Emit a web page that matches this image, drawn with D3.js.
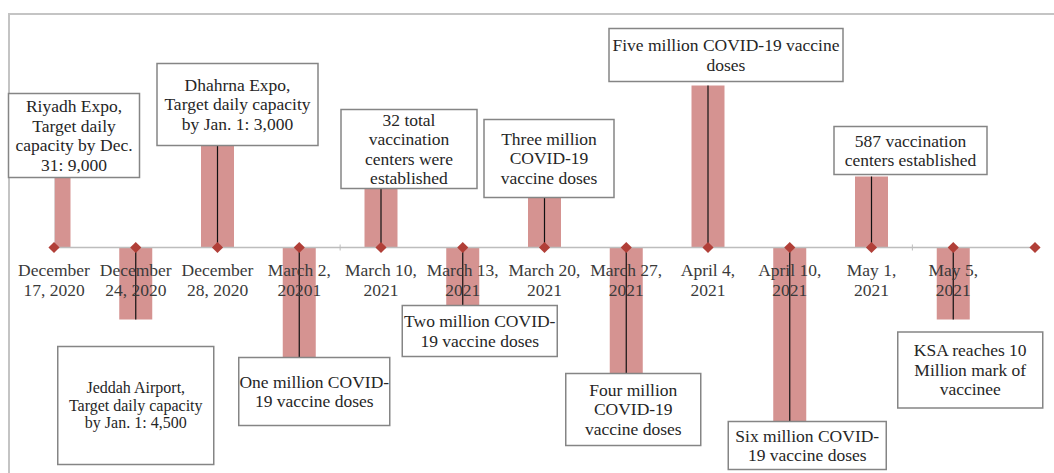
<!DOCTYPE html>
<html>
<head>
<meta charset="utf-8">
<script src="https://cdn.jsdelivr.net/npm/d3@7"></script>
<style>
  html, body { margin: 0; padding: 0; background: #fff; }
  svg { display: block; }
</style>
</head>
<body>
<script>
// Timeline data
var dates = [
  ["December", "17, 2020"], ["December", "24, 2020"], ["December", "28, 2020"],
  ["March 2,", "20201"], ["March 10,", "2021"], ["March 13,", "2021"],
  ["March 20,", "2021"], ["March 27,", "2021"], ["April 4,", "2021"],
  ["April 10,", "2021"], ["May 1,", "2021"], ["May 5,", "2021"], ["", ""]
];
// bar heights (arbitrary units, + above the line, - below)
var heights = [3.5, -3.6, 5.1, -5.5, 2.95, -2.9, 2.5, -6.3, 8.1, -8.7, 3.55, -3.6, null];
var events = [
  ["Riyadh Expo,", "Target daily", "capacity by Dec.", "31: 9,000"],
  ["Jeddah Airport,", "Target daily capacity", "by Jan. 1: 4,500"],
  ["Dhahrna Expo,", "Target daily capacity", "by Jan. 1: 3,000"],
  ["One million COVID-", "19 vaccine doses"],
  ["32 total", "vaccination", "centers were", "established"],
  ["Two million COVID-", "19 vaccine doses"],
  ["Three million", "COVID-19", "vaccine doses"],
  ["Four million", "COVID-19", "vaccine doses"],
  ["Five million COVID-19 vaccine", "doses"],
  ["Six million COVID-", "19 vaccine doses"],
  ["587 vaccination", "centers established"],
  ["KSA reaches 10", "Million mark of", "vaccinee"],
  null
];
var tickAfter = [3, 10];

// label box layout: [dx, gap, width, height, fontSize, lineHeight]
var boxLayout = [
  [20, 0, 131, 84, 17.5, 19.5],
  [0, 27, 156, 118, 16, 17.5],
  [20, 0, 161, 82, 17.5, 19.5],
  [15, 0, 151, 68, 17.5, 19.5],
  [28, 0, 136, 79, 17.5, 19.5],
  [17, 0, 155, 51, 17.5, 19.5],
  [4.5, 0, 130, 78, 17.5, 19.5],
  [7, 0, 135, 72, 17.5, 19.5],
  [18, 4, 234, 53, 17.5, 19.5],
  [17.5, 0, 158, 48, 17.5, 19.5],
  [39, 2, 153, 48, 17.5, 19.5],
  [17, 12.5, 145, 76, 17.5, 19.5]
];

function main() {
  var width = 1054, height = 473;
  var font = "'Liberation Serif', 'Times New Roman', serif";

  var svg = d3.select("body").append("svg")
    .attr("width", width)
    .attr("height", height);

  // outer chart border
  svg.append("rect")
    .attr("x", 9).attr("y", 14)
    .attr("width", 1100).attr("height", 500)
    .attr("fill", "none")
    .attr("stroke", "#c4c4c4")
    .attr("stroke-width", 2);

  var x = d3.scalePoint()
    .domain(d3.range(dates.length))
    .range([54, 1035]);
  var y = d3.scaleLinear().domain([-10, 10]).range([447.5, 47.5]);
  var step = x.step();

  svg.append("clipPath").attr("id", "plot")
    .append("rect")
    .attr("x", 54.8).attr("y", 0)
    .attr("width", 1035 - 54).attr("height", height);

  var plot = svg.append("g").attr("clip-path", "url(#plot)");
  var barW = 33;
  var pts = d3.range(dates.length).filter(function(i) { return heights[i] != null; });

  // bars
  plot.selectAll("rect.bar").data(pts).enter().append("rect")
    .attr("class", "bar")
    .attr("x", function(i) { return x(i) - barW / 2; })
    .attr("y", function(i) { return Math.min(y(heights[i]), y(0)); })
    .attr("width", barW)
    .attr("height", function(i) { return Math.abs(y(heights[i]) - y(0)); })
    .attr("fill", "#d59391");

  // axis line
  svg.append("line")
    .attr("x1", x(0)).attr("x2", x(dates.length - 1))
    .attr("y1", y(0)).attr("y2", y(0))
    .attr("stroke", "#bdbdbd")
    .attr("stroke-width", 1.5);

  svg.selectAll("line.tick").data(tickAfter).enter().append("line")
    .attr("x1", function(i) { return x(i) + step / 2; })
    .attr("x2", function(i) { return x(i) + step / 2; })
    .attr("y1", y(0) - 3).attr("y2", y(0) + 3)
    .attr("stroke", "#bdbdbd");

  // axis labels
  var lab = svg.selectAll("text.cat").data(d3.range(dates.length)).enter().append("text")
    .attr("class", "cat")
    .attr("x", function(i) { return x(i); })
    .attr("y", 275.5)
    .attr("text-anchor", "middle")
    .attr("font-family", font)
    .attr("font-size", 17.5)
    .attr("fill", "#3a3a3a");
  lab.append("tspan").attr("x", function(i) { return x(i); }).text(function(i) { return dates[i][0]; });
  lab.append("tspan").attr("x", function(i) { return x(i); }).attr("dy", 20).text(function(i) { return dates[i][1]; });

  // drop lines
  plot.selectAll("line.drop").data(pts).enter().append("line")
    .attr("x1", function(i) { return x(i); })
    .attr("x2", function(i) { return x(i); })
    .attr("y1", y(0))
    .attr("y2", function(i) { return y(heights[i]); })
    .attr("stroke", "#111")
    .attr("stroke-width", 1.2);

  // markers
  svg.selectAll("path.mark").data(d3.range(dates.length)).enter().append("path")
    .attr("class", "mark")
    .attr("d", d3.symbol(d3.symbolSquare, 62))
    .attr("transform", function(i) { return "translate(" + x(i) + "," + y(0) + ") rotate(45)"; })
    .attr("fill", "#b13f38");

  // label boxes
  pts.forEach(function(i) {
    var L = boxLayout[i];
    var v = heights[i];
    var cx = x(i) + L[0];
    var top = v > 0 ? y(v) - L[1] - L[3] : y(v) + L[1];
    var g = svg.append("g");
    g.append("rect")
      .attr("x", cx - L[2] / 2).attr("y", top)
      .attr("width", L[2]).attr("height", L[3])
      .attr("fill", "#fff")
      .attr("stroke", "#858585")
      .attr("stroke-width", 1.5);
    var lines = events[i];
    var startY = top + L[3] / 2 - (lines.length - 1) * L[5] / 2 + L[4] * 0.33;
    g.selectAll("text").data(lines).enter().append("text")
      .attr("x", cx)
      .attr("y", function(d, k) { return startY + k * L[5]; })
      .attr("text-anchor", "middle")
      .attr("font-family", font)
      .attr("font-size", L[4])
      .attr("fill", "#262626")
      .text(function(d) { return d; });
  });
}
main();
</script>
</body>
</html>
